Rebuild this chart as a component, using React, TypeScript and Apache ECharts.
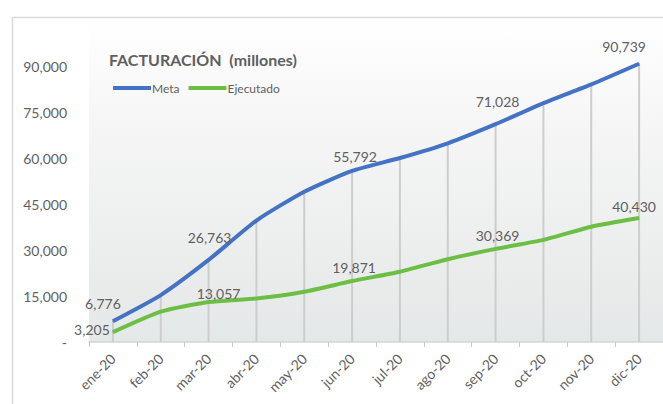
import React, { useEffect, useRef } from "react";
import * as echarts from "echarts";

const months = ["ene-20", "feb-20", "mar-20", "abr-20", "may-20", "jun-20", "jul-20", "ago-20", "sep-20", "oct-20", "nov-20", "dic-20"];
const meta = [6776, 15300, 26763, 39600, 49000, 55792, 60000, 64800, 71028, 77900, 84000, 90739];
const ejecutado = [3205, 9900, 13057, 14200, 16400, 19871, 22900, 27000, 30369, 33300, 37600, 40430];
const seriesNames = ["Meta", "Ejecutado"];
const titleText = "FACTURACIÓN  (millones)";

// label placement (center offsets from point, px) for labelled points
const metaLabelOffsets: Record<number, [number, number]> = {
  0: [-10, -18],
  2: [1, -22],
  5: [3, -14],
  8: [2, -23],
  11: [-15, -17],
};
const ejecLabelOffsets: Record<number, [number, number]> = {
  0: [-21, -3],
  2: [10, -8],
  5: [2, -14],
  8: [2, -13],
  11: [-5, -12],
};

const FONT = "Lato, 'Open Sans', sans-serif";
const TXT = "#5f5f5f";

function fmt(v: number) {
  return v.toLocaleString("en-US");
}

function buildData(values: number[], offsets: Record<number, [number, number]>) {
  return values.map((v, i) => {
    const off = offsets[i];
    if (!off) return { value: v, label: { show: false } };
    return {
      value: v,
      label: {
        show: true,
        position: "inside",
        offset: off,
        formatter: (p: any) => fmt(p.value),
        color: TXT,
        fontSize: 14,
        fontFamily: FONT,
      },
    };
  });
}

export default function App() {
  const ref = useRef<HTMLDivElement>(null);
  useEffect(() => {
    document.body.style.margin = "0";
    const chart = echarts.init(ref.current!, null, { renderer: "svg" });
    chart.setOption({
      animation: false,
      backgroundColor: "#ffffff",
      graphic: [
        {
          type: "rect",
          z: -10,
          shape: { x: 12.5, y: 17.5, width: 700, height: 420 },
          style: { fill: "#ffffff", stroke: "#dadada", lineWidth: 1.5 },
          silent: true,
        },
      ],
      title: {
        text: titleText,
        left: 104,
        top: 46,
        textStyle: { color: TXT, fontSize: 16, fontWeight: "bold", fontFamily: FONT },
      },
      legend: {
        left: 108,
        top: 77,
        icon: "rect",
        itemWidth: 38,
        itemHeight: 4,
        itemGap: 9,
        data: seriesNames,
        textStyle: { color: TXT, fontSize: 12, fontFamily: FONT, padding: [0, 0, 0, -4] },
      },
      grid: {
        left: 89,
        right: -1,
        top: 20,
        bottom: 62,
        show: true,
        borderWidth: 0,
        backgroundColor: new echarts.graphic.LinearGradient(0, 0, 0, 1, [
          { offset: 0, color: "#ffffff" },
          { offset: 0.35, color: "#f5f5f5" },
          { offset: 1, color: "#e5e8e8" },
        ]),
      },
      xAxis: {
        type: "category",
        data: months,
        boundaryGap: true,
        axisLine: { lineStyle: { color: "#d4d4d4", width: 1.5 } },
        axisTick: { show: true, length: 5, lineStyle: { color: "#c8c8c8" } },
        axisLabel: {
          rotate: 45,
          color: TXT,
          fontSize: 14,
          fontFamily: FONT,
          margin: 14,
          interval: 0,
        },
        splitLine: { show: false },
      },
      yAxis: {
        type: "value",
        min: 0,
        max: 105000,
        interval: 15000,
        axisLine: { show: false },
        axisTick: { show: false },
        splitLine: { show: false },
        axisLabel: {
          color: TXT,
          fontSize: 14,
          fontFamily: FONT,
          margin: 22,
          formatter: (v: number) => (v === 0 ? "-" : v >= 105000 ? "" : fmt(v)),
        },
      },
      series: [
        {
          name: "drop",
          type: "bar",
          data: meta,
          barWidth: 2,
          itemStyle: { color: "#cdcdcd" },
          silent: true,
          z: 1,
          legendHoverLink: false,
        },
        {
          name: seriesNames[0],
          type: "line",
          data: buildData(meta, metaLabelOffsets),
          smooth: 0.2,
          symbol: "circle",
          symbolSize: 1,
          lineStyle: { color: "#4472C4", width: 4 },
          itemStyle: { color: "#4472C4" },
          z: 3,
        },
        {
          name: seriesNames[1],
          type: "line",
          data: buildData(ejecutado, ejecLabelOffsets),
          smooth: 0.2,
          symbol: "circle",
          symbolSize: 1,
          lineStyle: { color: "#6DBE45", width: 4 },
          itemStyle: { color: "#6DBE45" },
          z: 3,
        },
      ],
    });
    return () => chart.dispose();
  }, []);
  return <div ref={ref} style={{ position: "absolute", left: 0, top: 0, width: 663, height: 404 }} />;
}
